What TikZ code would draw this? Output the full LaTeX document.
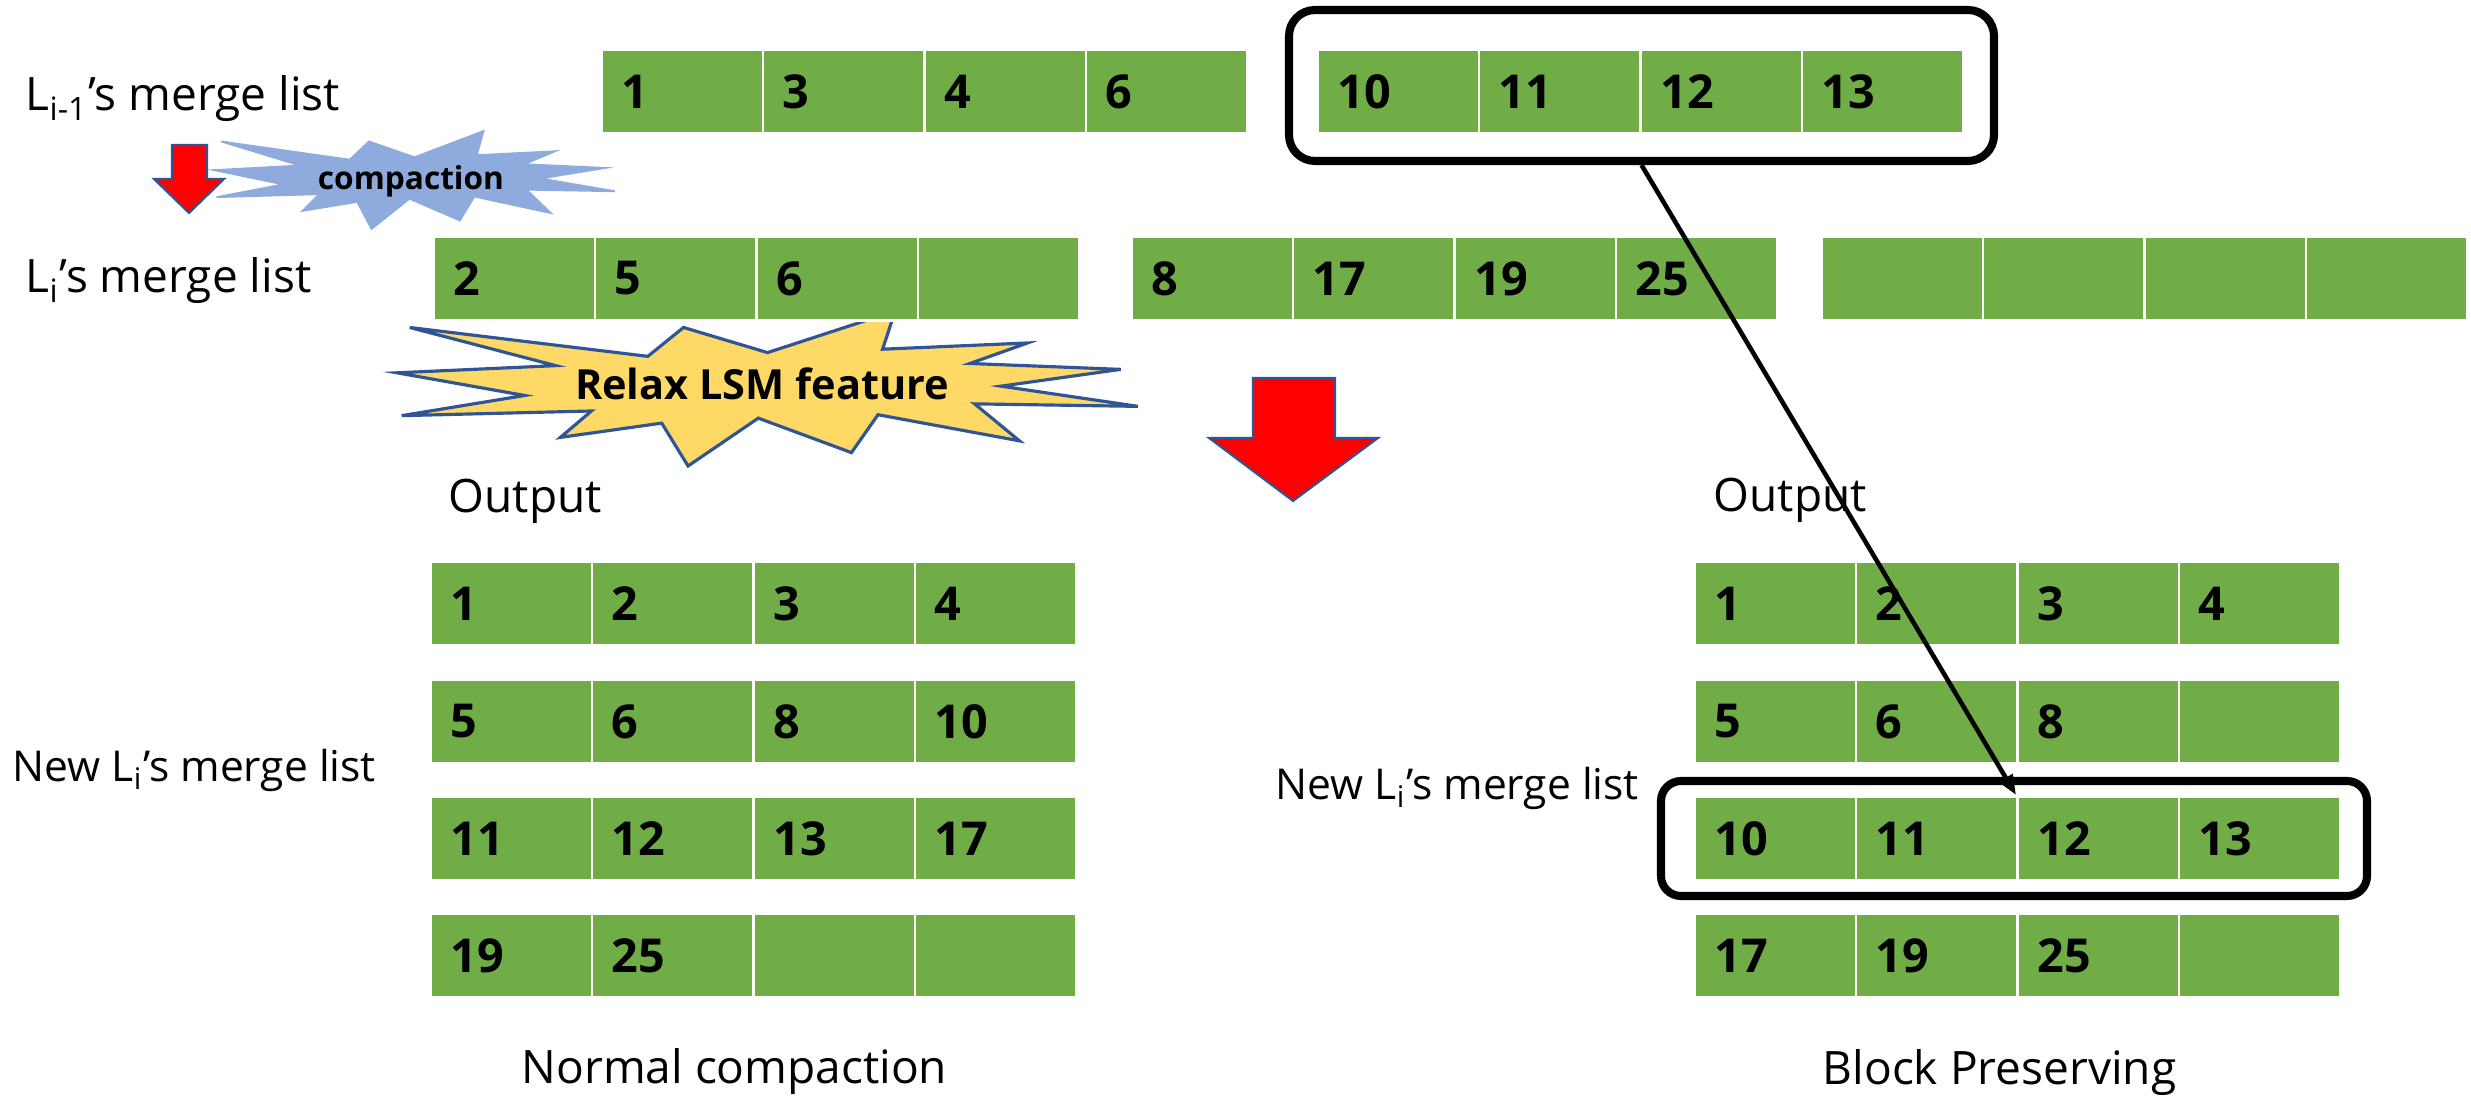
\documentclass[tikz,border=0pt]{standalone}
\usepackage{fontspec}
\setmainfont{Open Sans}
\usetikzlibrary{arrows.meta}
\definecolor{cellgreen}{HTML}{70AD47}
\definecolor{starblue}{HTML}{8FAADC}
\definecolor{staryellow}{HTML}{FFD966}
\definecolor{outlineblue}{HTML}{2F5597}
\definecolor{arrowred}{HTML}{FF0000}
\newcommand\cellrow[4]{\foreach \t [count=\k] in {#4}{\node[cellbox] (#1-\k) at ({#2+(\k-1)*161.5},#3) {\t};}}
\newcommand\sealshape[5]{\begin{scope}[shift={(#1,#2)}, xscale=#3/100, yscale=#4/100]
\draw[#5] (50,26.85) -- (67.23,0) -- (65.53,24.65) -- (85.09,20.63) -- (77.32,33.87) -- (97.67,37.67) -- (81.51,48.50) -- (100,61.53) -- (77.95,59.92) -- (84.00,83.77) -- (64.91,66.93) -- (61.33,91.38) -- (48.76,69.14) -- (39.28,100) -- (35.72,72.35) -- (22.05,81.56) -- (26.24,64.52) -- (0.625,67.53) -- (17.23,54.51) -- (0,39.88) -- (21.42,35.26) -- (1.71,10.63) -- (33.85,29.26) -- (38.67,10.63) -- cycle;
\end{scope}}
\begin{document}
\begin{tikzpicture}[x=0.1mm,y=-0.1mm,
  cellbox/.style={rectangle, anchor=north west, fill=cellgreen, draw=white, line width=0.8pt,
    minimum width=16.15mm, minimum height=8.4mm, inner xsep=2mm, inner ysep=0pt,
    text width=12.15mm, align=left, font=\fontsize{13.3}{15}\selectfont\bfseries},
  lbl/.style={anchor=base west, inner sep=0pt, font=\fontsize{13.1}{15}\selectfont},
  newlbl/.style={anchor=base west, inner sep=0pt, font=\fontsize{12.1}{15}\selectfont},
  grpbox/.style={draw=black, line width=2.3pt, rectangle},
  redarrow/.style={fill=arrowred, draw=outlineblue, line width=0.6pt, line join=miter},
  conn/.style={draw=black, line width=1.3pt, -{Triangle[length=2mm,width=1.5mm]}}]
\useasboundingbox (0,0) rectangle (2471,1097);

% stars
\sealshape{214}{131}{401}{98}{fill=starblue, draw=starblue, line width=0.5pt}
\sealshape{397}{311}{741}{155}{fill=staryellow, draw=outlineblue, line width=0.9pt}
\node[anchor=base, inner sep=0pt, font=\fontsize{9}{11}\selectfont\bfseries] (comp) at (411,190) {compaction};
\node[anchor=base, inner sep=0pt, font=\fontsize{11.8}{14}\selectfont\bfseries] (relax) at (762,400) {Relax LSM feature};

% red arrows
\draw[redarrow] (172,145) -- (207,145) -- (207,179) -- (224,179) -- (189,213) -- (154,179) -- (172,179) -- cycle;
\draw[redarrow] (1253,378) -- (1335,378) -- (1335,438) -- (1378,438) -- (1293,501) -- (1209,438) -- (1253,438) -- cycle;

% merge lists
\cellrow{a}{600}{48}{1,3,4,6}
\cellrow{b}{1316}{48}{10,11,12,13}
\cellrow{c}{432}{235}{2,5,6,{}}
\cellrow{d}{1130}{235}{8,17,19,25}
\cellrow{e}{1820}{235}{{},{},{},{}}

% normal compaction output
\cellrow{L1}{429}{560}{1,2,3,4}
\cellrow{L2}{429}{678}{5,6,8,10}
\cellrow{L3}{429}{795}{11,12,13,17}
\cellrow{L4}{429}{912}{19,25,{},{}}

% block preserving output
\cellrow{R1}{1693}{560}{1,2,3,4}
\cellrow{R2}{1693}{678}{5,6,8,{}}
\cellrow{R3}{1693}{795}{10,11,12,13}
\cellrow{R4}{1693}{912}{17,19,25,{}}

% highlight boxes
\node[grpbox, minimum width=70.5mm, minimum height=15.1mm, rounded corners=2.6mm] (topgrp) at (1641.5,85.5) {};
\node[grpbox, minimum width=70.6mm, minimum height=11.5mm, rounded corners=2mm] (botgrp) at (2014,838.5) {};

% labels
\node[lbl] (lprev) at (25,111) {L\textsubscript{i-1}’s merge list};
\node[lbl] (lcur) at (25,293) {L\textsubscript{i}’s merge list};
\node[lbl] (outL) at (448,513) {Output};
\node[lbl] (outR) at (1713,512) {Output};
\node[newlbl] (newL) at (12,782) {New L\textsubscript{i}’s merge list};
\node[newlbl] (newR) at (1275,800) {New L\textsubscript{i}’s merge list};
\node[lbl] (capL) at (521,1084) {Normal compaction};
\node[lbl] (capR) at (1822,1085) {Block Preserving};

% connector
\draw[conn] (topgrp.south) -- (R3-3.north west);
\end{tikzpicture}
\end{document}
